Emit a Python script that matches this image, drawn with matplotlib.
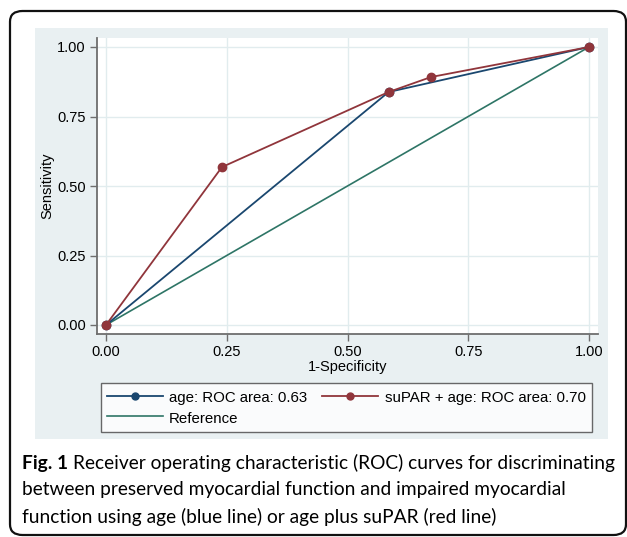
import numpy as np
import matplotlib
matplotlib.use("Agg")
import matplotlib.pyplot as plt
from matplotlib.patches import FancyBboxPatch, Rectangle
from matplotlib.lines import Line2D

plt.rcParams['font.family'] = ['Liberation Sans', 'DejaVu Sans']

# ROC points
fpr_age = [0.0, 0.585, 1.0]
tpr_age = [0.0, 0.838, 1.0]
fpr_supar = [0.0, 0.24, 0.585, 0.673, 1.0]
tpr_supar = [0.0, 0.568, 0.838, 0.892, 1.0]
ref_x = [0.0, 1.0]
ref_y = [0.0, 1.0]

ticks = [0.0, 0.25, 0.5, 0.75, 1.0]
tick_labels = ["0.00", "0.25", "0.50", "0.75", "1.00"]
lab_age = "age: ROC area: 0.63"
lab_supar = "suPAR + age: ROC area: 0.70"
lab_ref = "Reference"

caption_bold = "Fig. 1"
caption_lines = ["Receiver operating characteristic (ROC) curves for discriminating",
                 "between preserved myocardial function and impaired myocardial",
                 "function using age (blue line) or age plus suPAR (red line)"]

blue = "#1a476f"
red = "#90353b"
green = "#2e7566"
panel = "#e9f0f2"
grid = "#e1ecee"

W, H = 627, 537
fig = plt.figure(figsize=(W / 100, H / 100), dpi=100)

def px(x, y):
    # pixel (from top-left) -> figure fraction
    return x / W, 1 - y / H

# outer rounded frame
fx, fy = px(10, 535)
frame = FancyBboxPatch((fx, fy), (626 - 10) / W, (535 - 11) / H,
                       boxstyle="round,pad=0,rounding_size=0.02",
                       transform=fig.transFigure, facecolor="white",
                       edgecolor="#111111", linewidth=1.6, zorder=0)
fig.patches.append(frame)

# light graph region
gx, gy = px(35, 439)
fig.patches.append(Rectangle((gx, gy), (608 - 35) / W, (439 - 28) / H,
                             transform=fig.transFigure, facecolor=panel,
                             edgecolor="none", zorder=0.5))

ax_l, ax_b = px(97, 334)
ax = fig.add_axes([ax_l, ax_b, (598 - 97) / W, (334 - 38) / H])
ax.set_zorder(2)
ax.set_facecolor("white")

ax.plot(ref_x, ref_y, color=green, lw=1.2, zorder=2)
ax.plot(fpr_age, tpr_age, color=blue, lw=1.3, marker="o", ms=6, zorder=3)
ax.plot(fpr_supar, tpr_supar, color=red, lw=1.3, marker="o", ms=6, zorder=4)

ax.set_xlim(-9 / 483, 1 + 9 / 483)
ax.set_ylim(-9 / 278, 1 + 9 / 278)
ax.set_xticks(ticks)
ax.set_xticklabels(tick_labels)
ax.set_yticks(ticks)
ax.set_yticklabels(tick_labels)
ax.grid(True, color=grid, lw=1.0)
ax.set_axisbelow(True)

for s in ["top", "right"]:
    ax.spines[s].set_visible(False)
for s in ["left", "bottom"]:
    ax.spines[s].set_color("#6e6e6e")
    ax.spines[s].set_linewidth(1.3)
ax.tick_params(direction="out", length=5, width=1, color="#6e6e6e",
               labelsize=10.5, pad=3)

ax.set_xlabel("1-Specificity", fontsize=10.5, labelpad=1)
ax.set_ylabel("Sensitivity", fontsize=10.5, labelpad=2)

# legend box
handles = [Line2D([], [], color=blue, lw=1.3, marker="o", ms=5),
           Line2D([], [], color=green, lw=1.2),
           Line2D([], [], color=red, lw=1.3, marker="o", ms=5)]
labels = [lab_age, lab_ref, lab_supar]
leg = fig.legend(handles, labels, ncol=2, loc="upper left",
                 bbox_to_anchor=(101 / W, 1 - 383 / H), fontsize=10.8,
                 frameon=True, fancybox=False, edgecolor="#444444",
                 handlelength=3.7, handleheight=1.3, handletextpad=0.45,
                 columnspacing=1.0, labelspacing=0.3, borderpad=0.4,
                 borderaxespad=0)
leg.get_frame().set_linewidth(1.0)
leg.set_zorder(3)

# caption: bold lead-in, then regular text; size fitted to the line width
cap_font = ['Lato', 'DejaVu Sans']
cap_size = 13
x0 = 22
right_px = 612
r = fig.canvas.get_renderer()
t_b = fig.text(x0 / W, 1 - 463 / H, caption_bold + " ", fontsize=cap_size,
               fontweight="bold", family=cap_font, va="center", ha="left")
t1 = fig.text(0, 1 - 463 / H, caption_lines[0], fontsize=cap_size,
              family=cap_font, va="center", ha="left")
wb = t_b.get_window_extent(r).width
w1 = t1.get_window_extent(r).width
cap_size = cap_size * (right_px - x0) / (wb + w1)
t_b.set_fontsize(cap_size)
t1.set_fontsize(cap_size)
wb = t_b.get_window_extent(r).width
t1.set_x((x0 + wb) / W)
fig.text(x0 / W, 1 - 490 / H, caption_lines[1], fontsize=cap_size,
         family=cap_font, va="center", ha="left")
fig.text(x0 / W, 1 - 517 / H, caption_lines[2], fontsize=cap_size,
         family=cap_font, va="center", ha="left")

fig.savefig("out.png", dpi=100)
